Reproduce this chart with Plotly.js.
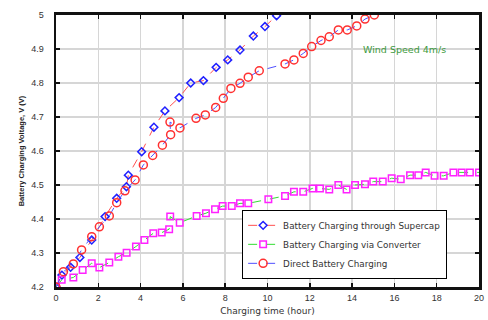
<!DOCTYPE html>
<html><head><meta charset="utf-8">
<script src="https://cdn.plot.ly/plotly-3.0.1.min.js"></script>
<style>body{margin:0;background:#fff}#chart{width:488px;height:320px}</style>
</head><body><div id="chart"></div>
<script>
const supercapX = [0, 0.28, 0.69, 1.13, 1.69, 2.32, 2.87, 3.33, 3.42, 4.05, 4.63, 5.15, 5.82, 6.37, 6.97, 7.57, 8.12, 8.70, 9.33, 9.88, 10.43];
const supercapY = [4.2, 4.235, 4.258, 4.287, 4.338, 4.407, 4.461, 4.495, 4.529, 4.598, 4.67, 4.718, 4.757, 4.80, 4.807, 4.846, 4.868, 4.897, 4.938, 4.966, 4.998];

const converterX = [0, 0.27, 0.82, 1.26, 1.69, 2.05, 2.52, 2.95, 3.34, 3.78, 4.18, 4.60, 5.0, 5.35, 5.40, 5.85, 6.65, 7.09, 7.52, 7.88, 8.31, 8.70, 9.09, 10.04, 10.83, 11.25, 11.69, 12.13, 12.48, 12.92, 13.35, 13.74, 14.14, 14.61, 15.0, 15.45, 15.87, 16.30, 16.74, 17.13, 17.48, 17.90, 18.33, 18.79, 19.18, 19.57, 20.0];
const converterY = [4.2, 4.221, 4.228, 4.25, 4.27, 4.257, 4.272, 4.289, 4.301, 4.319, 4.338, 4.358, 4.36, 4.37, 4.407, 4.389, 4.409, 4.417, 4.429, 4.438, 4.438, 4.446, 4.446, 4.458, 4.468, 4.48, 4.48, 4.49, 4.49, 4.487, 4.5, 4.487, 4.5, 4.502, 4.51, 4.51, 4.52, 4.517, 4.529, 4.529, 4.537, 4.527, 4.527, 4.537, 4.537, 4.537, 4.537];

const directX = [0, 0.35, 0.82, 1.21, 1.69, 2.05, 2.52, 2.87, 3.26, 3.74, 4.13, 4.57, 5.03, 5.42, 5.39, 5.86, 6.62, 7.06, 7.55, 7.91, 8.27, 8.70, 9.09, 9.61, 10.83, 11.25, 11.69, 12.09, 12.53, 12.92, 13.35, 13.77, 14.22, 14.61, 15.05];
const directY = [4.2, 4.245, 4.268, 4.309, 4.348, 4.377, 4.409, 4.448, 4.483, 4.515, 4.559, 4.587, 4.617, 4.648, 4.685, 4.668, 4.696, 4.706, 4.728, 4.755, 4.784, 4.799, 4.817, 4.836, 4.856, 4.868, 4.887, 4.907, 4.925, 4.936, 4.956, 4.956, 4.968, 4.988, 5.0];

const seriesNames = ['Battery Charging through Supercap', 'Battery Charging via Converter', 'Direct Battery Charging'];
const xTicks = [0, 2, 4, 6, 8, 10, 12, 14, 16, 18, 20];
const yTicks = [4.2, 4.3, 4.4, 4.5, 4.6, 4.7, 4.8, 4.9, 5];
const annotationText = 'Wind Speed 4m/s';

const traces = [
  {x: supercapX, y: supercapY, name: seriesNames[0], type: 'scatter', mode: 'lines+markers',
   line: {color: '#ff5050', width: 1, dash: 'dash'},
   marker: {symbol: 'diamond-open', size: 6, color: '#2020ff', line: {width: 1.5, color: '#2020ff'}}},
  {x: converterX, y: converterY, name: seriesNames[1], type: 'scatter', mode: 'lines+markers',
   line: {color: '#33dd33', width: 1, dash: 'dash'},
   marker: {symbol: 'square-open', size: 6.5, color: '#ff22ff', line: {width: 1.5, color: '#ff22ff'}}},
  {x: directX, y: directY, name: seriesNames[2], type: 'scatter', mode: 'lines+markers',
   line: {color: '#5050ff', width: 1, dash: 'dash'},
   marker: {symbol: 'circle-open', size: 8, color: '#ff3030', line: {width: 1.5, color: '#ff3030'}}}
];

const tickFont = {family: 'Liberation Sans, Arial, sans-serif', size: 9, color: '#333'};
const wideFont = 'DejaVu Sans, sans-serif';
const layout = {
  width: 488, height: 320,
  margin: {l: 56, r: 9, t: 15, b: 33},
  paper_bgcolor: '#fff', plot_bgcolor: '#fff',
  font: tickFont,
  showlegend: true,
  legend: {x: 0.44, y: 0.03, xanchor: 'left', yanchor: 'bottom', bgcolor: '#fff',
           bordercolor: '#000', borderwidth: 1, font: {family: wideFont, size: 8.8, color: '#333'},
           tracegroupgap: 0},
  xaxis: {range: [0, 20], tickvals: xTicks, ticktext: xTicks.map(String), showgrid: true, gridcolor: '#d6d6d6', gridwidth: 1.5,
          zeroline: false, showline: true, linecolor: '#111', linewidth: 3, mirror: 'allticks',
          ticks: 'inside', ticklen: 4, tickcolor: '#111', tickwidth: 1.5,
          title: {text: 'Charging time (hour)', font: {family: wideFont, size: 9, color: '#333'}, standoff: 6}},
  yaxis: {range: [4.2, 5], tickvals: yTicks, ticktext: yTicks.map(v => String(v)), showgrid: true, gridcolor: '#d6d6d6', gridwidth: 1.5,
          zeroline: false, showline: true, linecolor: '#111', linewidth: 2.5, mirror: 'allticks',
          ticks: 'inside', ticklen: 4, tickcolor: '#111', tickwidth: 1.5, ticklabelstandoff: 8,
          title: {text: 'Battery Charging Voltage, V (V)', font: {family: tickFont.family, size: 7.5, color: '#222', weight: 'bold'}, standoff: 6}},
  annotations: [{x: 16.5, y: 4.9, xref: 'x', yref: 'y', text: annotationText, showarrow: false,
                 font: {family: wideFont, size: 9.5, color: '#3e9a3e'}}]
};
Plotly.newPlot('chart', traces, layout, {displayModeBar: false, staticPlot: true});
</script></body></html>
